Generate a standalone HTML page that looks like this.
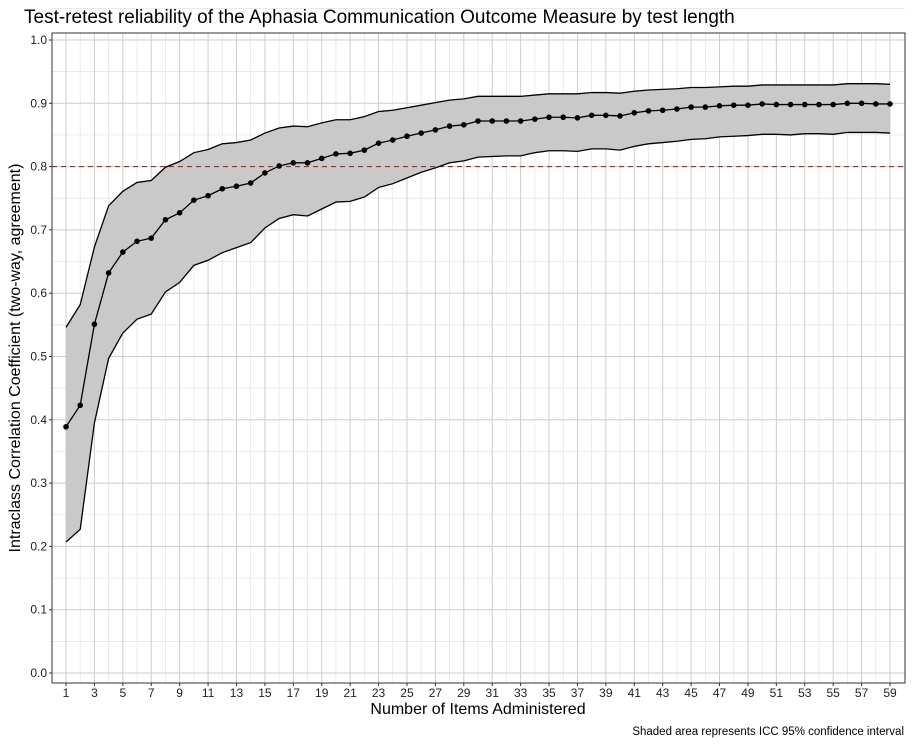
<!DOCTYPE html>
<html><head><meta charset="utf-8"><style>
body{margin:0;background:#fff;font-family:"Liberation Sans",Arial,sans-serif}
</style></head><body>
<svg id="c" width="913" height="745" xmlns="http://www.w3.org/2000/svg" font-family="Liberation Sans, Arial, sans-serif">
<text x="24" y="23" font-size="19" fill="#000">Test-retest reliability of the Aphasia Communication Outcome Measure by test length</text>
<text x="478" y="714" font-size="16" text-anchor="middle">Number of Items Administered</text>
<text transform="translate(20,358) rotate(-90)" font-size="16" text-anchor="middle">Intraclass Correlation Coefficient (two-way, agreement)</text>
<text x="904" y="735" font-size="11.5" text-anchor="end">Shaded area represents ICC 95% confidence interval</text>
<g id="grid"></g><g id="marks"></g><g id="axes"></g>
</svg>
<script>
const items=[];for(let i=1;i<=59;i++)items.push(i);
const icc=[.389,.423,.551,.632,.665,.682,.687,.716,.727,.747,.754,.765,.769,.774,.790,.801,.806,.806,.813,.820,.821,.826,.837,.842,.848,.853,.858,.864,.866,.872,.872,.872,.872,.875,.878,.878,.877,.881,.881,.880,.885,.888,.889,.891,.894,.894,.896,.897,.897,.899,.898,.898,.898,.898,.898,.900,.900,.899,.899];
const upper=[.546,.582,.673,.738,.761,.775,.778,.799,.808,.822,.827,.836,.838,.842,.853,.861,.864,.863,.869,.874,.874,.879,.887,.889,.893,.897,.901,.905,.907,.911,.911,.911,.911,.913,.915,.915,.915,.917,.917,.916,.919,.921,.922,.923,.925,.925,.926,.927,.927,.929,.929,.929,.929,.929,.929,.931,.931,.931,.930];
const lower=[.207,.227,.395,.497,.537,.559,.567,.602,.617,.644,.652,.664,.672,.680,.703,.718,.724,.722,.733,.744,.745,.752,.767,.773,.782,.791,.798,.806,.809,.815,.816,.817,.817,.822,.825,.825,.824,.828,.828,.826,.832,.836,.838,.840,.843,.844,.847,.848,.849,.851,.851,.850,.852,.852,.851,.854,.854,.854,.853];
const yTicks=[0,.1,.2,.3,.4,.5,.6,.7,.8,.9,1];
const threshold=0.8;
const NS="http://www.w3.org/2000/svg";
const L=52,R=905,T=33,B=683;
const xs=v=>66+(v-1)*(890-66)/58;
const ys=v=>673-v*633;
function mk(tag,at,parent){const e=document.createElementNS(NS,tag);for(const k in at)e.setAttribute(k,at[k]);document.getElementById(parent).appendChild(e);return e;}
for(let v=0.05;v<1.05;v+=0.1){const l=mk('line',{x1:L,x2:R,y1:ys(v),y2:ys(v),stroke:'#e3e3e3','stroke-width':0.7},'grid');

}
for(let i=2;i<=59;i+=2){const l=mk('line',{x1:xs(i),x2:xs(i),y1:T,y2:B,stroke:'#e3e3e3','stroke-width':0.7},'grid');

}
yTicks.forEach(v=>{const l=mk('line',{x1:L,x2:R,y1:ys(v),y2:ys(v),stroke:'#cdcdcd','stroke-width':1},'grid');


const t=mk('text',{x:47,y:ys(v)+4,'font-size':12,'text-anchor':'end',fill:'#222'},'axes');t.textContent=v.toFixed(1);


const k=mk('line',{x1:L-3,x2:L,y1:ys(v),y2:ys(v),stroke:'#333'},'axes');

});
for(let i=1;i<=59;i+=2){const l=mk('line',{x1:xs(i),x2:xs(i),y1:T,y2:B,stroke:'#cdcdcd','stroke-width':1},'grid');


const t=mk('text',{x:xs(i),y:697,'font-size':12,'text-anchor':'middle',fill:'#222'},'axes');t.textContent=i;


const k=mk('line',{x1:xs(i),x2:xs(i),y1:B,y2:B+3,stroke:'#333'},'axes');

}
let d='M'+items.map((x,i)=>xs(x)+','+ys(upper[i])).join('L');
for(let i=items.length-1;i>=0;i--)d+='L'+xs(items[i])+','+ys(lower[i]);
const rb=mk('path',{d:d+'Z',fill:'#c9c9c9'},'marks');


const th=mk('line',{x1:L,x2:R,y1:ys(threshold),y2:ys(threshold),stroke:'#b22222','stroke-width':1.1,'stroke-dasharray':'5,4'},'marks');


const up=mk('polyline',{points:items.map((x,i)=>xs(x)+','+ys(upper[i])).join(' '),fill:'none',stroke:'#000','stroke-width':1.3},'marks');


const lo=mk('polyline',{points:items.map((x,i)=>xs(x)+','+ys(lower[i])).join(' '),fill:'none',stroke:'#000','stroke-width':1.3},'marks');


const ml=mk('polyline',{points:items.map((x,i)=>xs(x)+','+ys(icc[i])).join(' '),fill:'none',stroke:'#000','stroke-width':1.3},'marks');


items.forEach((x,i)=>{const c=mk('circle',{cx:xs(x),cy:ys(icc[i]),r:2.8,fill:'#000'},'marks');

});
const fr=mk('rect',{x:L,y:T,width:R-L,height:B-T,fill:'none',stroke:'#333','stroke-width':1},'axes');


</script>
</body></html>
